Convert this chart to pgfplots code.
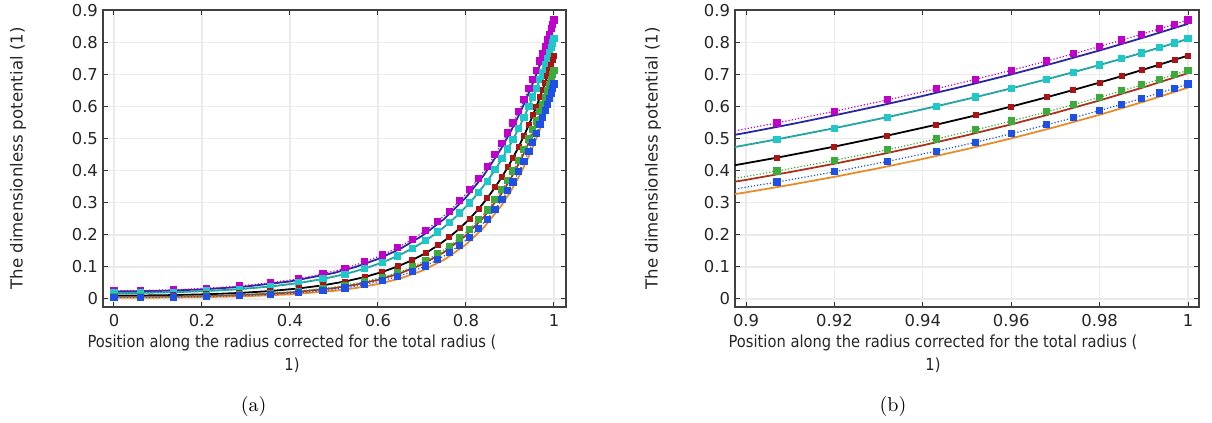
\documentclass[border=0pt]{standalone}
\usepackage{fontspec}
\usepackage{pgfplots}
\usepackage{pgfplotstable}
\pgfplotsset{compat=1.18}
\newfontfamily\dv{DejaVu Sans}
\newfontfamily\dvc[FakeStretch=0.886]{DejaVu Sans}

\definecolor{cmag}{RGB}{190,0,200}
\definecolor{cnavy}{RGB}{40,40,160}
\definecolor{ccyan}{RGB}{30,200,200}
\definecolor{cteal}{RGB}{40,150,150}
\definecolor{cdred}{RGB}{170,20,20}
\definecolor{cgreen}{RGB}{60,170,60}
\definecolor{cbrown}{RGB}{170,50,30}
\definecolor{cblue}{RGB}{30,80,230}
\definecolor{corange}{RGB}{230,140,40}

\pgfplotstableread{
x M C D G B
0 0.0259 0.0188 0.0106 0.0070 0.0051
0.06 0.0265 0.0192 0.0109 0.0073 0.0053
0.135 0.0288 0.0211 0.0122 0.0082 0.0060
0.21 0.0333 0.0248 0.0147 0.0101 0.0076
0.285 0.0405 0.0306 0.0188 0.0133 0.0101
0.355 0.0505 0.0389 0.0248 0.0180 0.0140
0.42 0.0635 0.0498 0.0330 0.0246 0.0194
0.475 0.0783 0.0626 0.0427 0.0326 0.0261
0.525 0.0958 0.0776 0.0546 0.0424 0.0346
0.57 0.1157 0.0949 0.0686 0.0543 0.0448
0.61 0.1375 0.1141 0.0845 0.0679 0.0568
0.645 0.1604 0.1345 0.1017 0.0829 0.0700
0.678 0.1860 0.1575 0.1215 0.1004 0.0857
0.708 0.2133 0.1822 0.1431 0.1196 0.1030
0.736 0.2428 0.2091 0.1670 0.1412 0.1226
0.762 0.2740 0.2378 0.1931 0.1649 0.1443
0.786 0.3069 0.2683 0.2208 0.1905 0.1679
0.808 0.3406 0.2998 0.2500 0.2176 0.1930
0.829 0.3766 0.3335 0.2817 0.2472 0.2206
0.848 0.4127 0.3675 0.3140 0.2776 0.2493
0.866 0.4502 0.4031 0.3482 0.3100 0.2799
0.882 0.4864 0.4378 0.3817 0.3421 0.3103
0.895 0.5183 0.4682 0.4115 0.3706 0.3375
0.907 0.5496 0.4983 0.4411 0.3993 0.3649
0.920 0.5858 0.5332 0.4757 0.4328 0.3970
0.932 0.6215 0.5677 0.5101 0.4663 0.4294
0.943 0.6560 0.6013 0.5439 0.4994 0.4614
0.952 0.6860 0.6303 0.5733 0.5283 0.4894
0.960 0.7137 0.6575 0.6007 0.5554 0.5157
0.968 0.7426 0.6857 0.6296 0.5840 0.5435
0.974 0.7651 0.7077 0.6522 0.6063 0.5654
0.980 0.7883 0.7305 0.6756 0.6296 0.5881
0.985 0.8081 0.7500 0.6957 0.6497 0.6079
0.9895 0.8265 0.7681 0.7144 0.6683 0.6261
0.9935 0.8431 0.7845 0.7314 0.6854 0.6428
0.997 0.8580 0.7992 0.7466 0.7006 0.6579
1.0 0.8710 0.8120 0.7600 0.7140 0.6710
}\marktab

\pgfplotstableread{
x N R O
0 0.0235 0.0061 0.0039
0.1 0.0250 0.0067 0.0043
0.2 0.0298 0.0086 0.0057
0.3 0.0390 0.0126 0.0087
0.4 0.0548 0.0201 0.0144
0.5 0.0812 0.0340 0.0254
0.55 0.1003 0.0449 0.0343
0.6 0.1248 0.0597 0.0467
0.65 0.1562 0.0799 0.0639
0.7 0.1968 0.1078 0.0882
0.75 0.2492 0.1460 0.1221
0.8 0.3170 0.1986 0.1700
0.84 0.3853 0.2548 0.2220
0.88 0.4695 0.3277 0.2906
0.9 0.5187 0.3718 0.3328
0.91 0.5451 0.3963 0.3563
0.92 0.5732 0.4222 0.3813
0.93 0.6027 0.4500 0.4082
0.94 0.6338 0.4796 0.4371
0.95 0.6665 0.5113 0.4681
0.96 0.7010 0.5451 0.5013
0.97 0.7375 0.5812 0.5369
0.98 0.7758 0.6198 0.5751
0.99 0.8163 0.6610 0.6160
1.0 0.8590 0.7050 0.6600
}\linetab

\pgfplotsset{
  base/.style={
    scale only axis, height=148.5pt,
    ymin=-0.025, ymax=0.902,
    ytick={0,0.1,0.2,0.3,0.4,0.5,0.6,0.7,0.8,0.9},
    grid=major, major grid style={draw=black!8, line width=0.6pt},
    tick align=inside, tick pos=both, major tick length=2.5pt,
    every tick/.style={black!80, line width=0.5pt},
    axis line style={black!75, line width=0.7pt},
    tick label style={font=\dv\fontsize{8.2}{10}\selectfont, text=black!85},
    yticklabel style={xshift=1pt},
    /pgf/number format/assume math mode=true,
  },
  sline/.style={line width=0.9pt, no markers},
  mline/.style={line width=0.6pt, densely dotted, mark=square*, mark size=1.5pt, mark options={solid}},
}

\newcommand{\allplots}{%
  \addplot[sline, cnavy] table[x=x,y=N]{\linetab};
  \addplot[sline, cteal] table[x=x,y=C]{\marktab};
  \addplot[sline, black] table[x=x,y=D]{\marktab};
  \addplot[sline, cbrown] table[x=x,y=R]{\linetab};
  \addplot[sline, corange] table[x=x,y=O]{\linetab};
  \addplot[mline, cmag] table[x=x,y=M]{\marktab};
  \addplot[mline, ccyan] table[x=x,y=C]{\marktab};
  \addplot[mline, cdred, solid, line width=0pt, draw opacity=0] table[x=x,y=D]{\marktab};
  \addplot[mline, cgreen] table[x=x,y=G]{\marktab};
  \addplot[mline, cblue] table[x=x,y=B]{\marktab};
}

\begin{document}
\begin{tikzpicture}
\path[use as bounding box] (0,0) rectangle (606pt,-211.5pt);

\begin{axis}[base, at={(51.5pt,-153.5pt)}, anchor=south west, width=231.5pt,
  xmin=-0.025, xmax=1.0273, xtick={0,0.2,0.4,0.6,0.8,1}]
  \allplots
\end{axis}

\begin{axis}[base, at={(367.5pt,-153.5pt)}, anchor=south west, width=232pt,
  xmin=0.89751, xmax=1.00249, xtick={0.9,0.92,0.94,0.96,0.98,1},
  xticklabels={0.9,0.92,0.94,0.96,0.98,1}]
  \allplots
\end{axis}

\node[rotate=90, font=\dv\fontsize{8.3}{10}\selectfont, text=black!85] at (9pt,-79.25pt) {The dimensionless potential (1)};
\node[rotate=90, font=\dv\fontsize{8.3}{10}\selectfont, text=black!85] at (326.5pt,-79.25pt) {The dimensionless potential (1)};

\node[align=center, inner sep=0pt, font=\dvc\fontsize{8.3}{11.2}\selectfont, text=black!85] at (146pt,-176.9pt) {Position along the radius corrected for the total radius (\\1)};
\node[align=center, inner sep=0pt, font=\dvc\fontsize{8.3}{11.2}\selectfont, text=black!85] at (466.5pt,-176.9pt) {Position along the radius corrected for the total radius (\\1)};

\node[font=\fontsize{10}{12}\selectfont] at (126.8pt,-203.35pt) {(a)};
\node[font=\fontsize{10}{12}\selectfont] at (446.5pt,-203.35pt) {(b)};
\end{tikzpicture}
\end{document}
